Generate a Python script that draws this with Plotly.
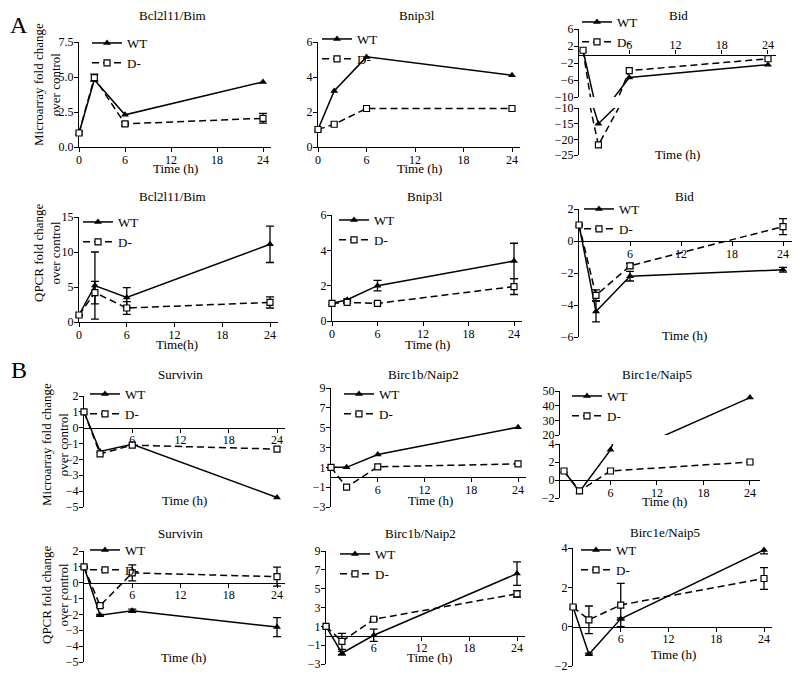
import plotly.graph_objects as go

# page body adds an 8px margin, so the figure is drawn 8px smaller and offset
OFF = 8
W, H = 800 - OFF, 677 - OFF
FONT = "Liberation Serif, Times New Roman, Times, serif"

# ---------------- data ----------------
time_h = [0, 2, 6, 24]

# A – microarray
bim_ma_wt = [1.0, 4.8, 2.3, 4.65]
bim_ma_d = [1.0, 4.95, 1.65, 2.05]
bim_ma_d_err = [0.1, 0.25, 0.12, 0.35]
bnip_ma_wt = [1.0, 3.2, 5.15, 4.1]
bnip_ma_d = [1.0, 1.3, 2.2, 2.2]
bid_ma_wt = [1.0, -15.0, -5.4, -2.4]
bid_ma_d = [1.0, -21.8, -3.8, -1.0]

# A – QPCR
bim_q_wt = [1.0, 5.2, 3.5, 11.1]
bim_q_wt_err = [0.0, 4.8, 1.4, 2.6]
bim_q_d = [1.0, 4.2, 2.0, 2.8]
bim_q_d_err = [0.0, 1.6, 0.9, 0.8]
bnip_q_wt = [1.0, 1.2, 2.0, 3.4]
bnip_q_wt_err = [0.0, 0.05, 0.3, 1.0]
bnip_q_d = [1.0, 1.05, 1.0, 1.95]
bnip_q_d_err = [0.0, 0.05, 0.05, 0.45]
bid_q_wt = [1.0, -4.4, -2.2, -1.8]
bid_q_wt_err = [0.05, 0.65, 0.3, 0.15]
bid_q_d = [1.0, -3.4, -1.55, 0.9]
bid_q_d_err = [0.05, 0.35, 0.15, 0.5]

# B – microarray
surv_ma_wt = [1.0, -1.5, -1.05, -4.4]
surv_ma_d = [1.0, -1.65, -1.1, -1.35]
naip2_ma_wt = [1.0, 1.0, 2.3, 5.05]
naip2_ma_d = [1.0, -1.0, 1.05, 1.35]
naip5_ma_wt = [1.0, -1.3, 3.35, 45.5]
naip5_ma_d = [1.0, -1.2, 1.0, 2.0]

# B – QPCR
surv_q_wt = [1.0, -2.05, -1.77, -2.8]
surv_q_wt_err = [0.05, 0.05, 0.1, 0.6]
surv_q_d = [1.0, -1.45, 0.62, 0.38]
surv_q_d_err = [0.05, 0.1, 0.5, 0.6]
naip2_q_wt = [1.0, -1.85, 0.05, 6.6]
naip2_q_wt_err = [0.1, 0.2, 0.65, 1.25]
naip2_q_d = [1.0, -0.6, 1.75, 4.45]
naip2_q_d_err = [0.1, 0.85, 0.1, 0.35]
naip5_q_wt = [1.0, -1.4, 0.4, 3.9]
naip5_q_wt_err = [0.05, 0.05, 0.05, 0.2]
naip5_q_d = [1.0, 0.35, 1.1, 2.45]
naip5_q_d_err = [0.05, 0.7, 1.1, 0.55]

# ---------------- panel setup ----------------
XT_ALL = [0, 6, 12, 18, 24]
XT_CROSS = [6, 12, 18, 24]

panels = [
    dict(title="Bcl2l11/Bim", wt=bim_ma_wt, wte=None, d=bim_ma_d, de=bim_ma_d_err,
         x0=79, x24=263, xr=[0, 25], xt=XT_ALL, cross=None,
         segs=[(42, 147, [0, 7.5], [0, 2.5, 5, 7.5])], yfmt=".1f",
         tpos=(172, 16), xtitle="Time (h)", xtpos=(175, 169), leg=(95, 42)),
    dict(title="Bnip3l", wt=bnip_ma_wt, wte=None, d=bnip_ma_d, de=None,
         x0=318, x24=512, xr=[0, 25], xt=XT_ALL, cross=None,
         segs=[(42, 147, [0, 6], [0, 2, 4, 6])], yfmt=None,
         tpos=(417, 16), xtitle="Time (h)", xtpos=(419, 169), leg=(325, 38)),
    dict(title="Bid", wt=bid_ma_wt, wte=None, d=bid_ma_d, de=None,
         x0=583, x24=768, xr=[-0.5, 25], xt=XT_CROSS, cross="top",
         segs=[(29, 97, [-10, 6], [6, 2, -2, -6, -10]),
               (108, 155, [-25, -10], [-10, -15, -20, -25])], yfmt=None,
         tpos=(678, 16), xtitle="Time (h)", xtpos=(677, 155), leg=(585, 21)),
    dict(title="Bcl2l11/Bim", wt=bim_q_wt, wte=bim_q_wt_err, d=bim_q_d, de=bim_q_d_err,
         x0=79, x24=270, xr=[0, 25], xt=XT_ALL, cross=None,
         segs=[(217, 322, [0, 15], [0, 5, 10, 15])], yfmt=None,
         tpos=(172, 197), xtitle="Time(h)", xtpos=(177, 344), leg=(86, 221)),
    dict(title="Bnip3l", wt=bnip_q_wt, wte=bnip_q_wt_err, d=bnip_q_d, de=bnip_q_d_err,
         x0=332, x24=514, xr=[0, 25], xt=XT_ALL, cross=None,
         segs=[(215, 321, [0, 6], [0, 2, 4, 6])], yfmt=None,
         tpos=(425, 197), xtitle="Time (h)", xtpos=(427, 344), leg=(342, 219)),
    dict(title="Bid", wt=bid_q_wt, wte=bid_q_wt_err, d=bid_q_d, de=bid_q_d_err,
         x0=579, x24=783, xr=[0, 25.2], xt=XT_CROSS, cross="bottom",
         segs=[(209, 337, [-6, 2], [-6, -4, -2, 0, 2])], yfmt=None,
         tpos=(684, 197), xtitle="Time (h)", xtpos=(684, 335), leg=(587, 208)),
    dict(title="Survivin", wt=surv_ma_wt, wte=None, d=surv_ma_d, de=None,
         x0=84, x24=277, xr=[0, 25], xt=XT_CROSS, cross="bottom",
         segs=[(396, 507, [-5, 2], [-5, -4, -3, -2, -1, 0, 1, 2])], yfmt=None,
         tpos=(180, 374), xtitle="Time (h)", xtpos=(184, 500), leg=(93, 393)),
    dict(title="Birc1b/Naip2", wt=naip2_ma_wt, wte=None, d=naip2_ma_d, de=None,
         x0=331, x24=518, xr=[0, 25], xt=XT_CROSS, cross="bottom",
         segs=[(388, 507, [-3, 9], [-3, -1, 1, 3, 5, 7, 9])], yfmt=None,
         tpos=(423, 374), xtitle="Time (h)", xtpos=(430, 500), leg=(347, 393)),
    dict(title="Birc1e/Naip5", wt=naip5_ma_wt, wte=None, d=naip5_ma_d, de=None,
         x0=564, x24=750, xr=[-0.5, 25.3], xt=XT_CROSS, cross="bottom",
         segs=[(444, 498, [-2, 4], [-2, 0, 2, 4]),
               (391, 435, [20, 50], [20, 30, 40, 50])], yfmt=None,
         tpos=(657, 374), xtitle="Time (h)", xtpos=(664, 502), leg=(575, 395)),
    dict(title="Survivin", wt=surv_q_wt, wte=surv_q_wt_err, d=surv_q_d, de=surv_q_d_err,
         x0=84, x24=277, xr=[0, 25], xt=XT_CROSS, cross="bottom",
         segs=[(551, 662, [-5, 2], [-5, -4, -3, -2, -1, 0, 1, 2])], yfmt=None,
         tpos=(180, 533), xtitle="Time (h)", xtpos=(183, 657), leg=(93, 549)),
    dict(title="Birc1b/Naip2", wt=naip2_q_wt, wte=naip2_q_wt_err, d=naip2_q_d, de=naip2_q_d_err,
         x0=326, x24=517, xr=[0, 25], xt=XT_CROSS, cross="bottom",
         segs=[(551, 664, [-3, 9], [-3, -1, 1, 3, 5, 7, 9])], yfmt=None,
         tpos=(420, 533), xtitle="Time (h)", xtpos=(429, 657), leg=(343, 553)),
    dict(title="Birc1e/Naip5", wt=naip5_q_wt, wte=naip5_q_wt_err, d=naip5_q_d, de=naip5_q_d_err,
         x0=573, x24=764, xr=[0, 25], xt=XT_CROSS, cross="bottom",
         segs=[(548, 666, [-2, 4], [-2, 0, 2, 4])], yfmt=None,
         tpos=(665, 532), xtitle="Time (h)", xtpos=(673, 654), leg=(584, 549)),
]

row_titles = [
    ("Microarray fold change<br>over control", 47, 85),
    ("QPCR fold change<br>over control", 47, 253),
    ("Microarray fold change<br>over control", 55, 445),
    ("QPCR fold change<br>over control", 55, 595),
]
letters = [("A", 19, 25), ("B", 19, 370)]


def fx(px):
    return (px - OFF) / W


def fy(py):
    return 1 - (py - OFF) / H


def axis_style(**kw):
    base = dict(showline=True, linecolor="black", linewidth=1.3, ticks="outside",
                ticklen=4, tickwidth=1.3, tickcolor="black", showgrid=False,
                zeroline=False, tickfont=dict(family=FONT, size=12, color="black"),
                layer="below traces", fixedrange=True, automargin=False)
    base.update(kw)
    return base


def err(a):
    if a is None:
        return None
    return dict(type="data", array=a, visible=True, color="black", thickness=1.3, width=4)


def ann(text, x, y, size=13, angle=0):
    return dict(text=text, x=fx(x), y=fy(y), xref="paper", yref="paper",
                xanchor="center", yanchor="middle", showarrow=False, textangle=angle,
                font=dict(family=FONT, size=size, color="black"))


fig = go.Figure()
layout = {}
annotations = []
extra_y = 13

for i, p in enumerate(panels, start=1):
    xs = "" if i == 1 else str(i)
    s = (p["x24"] - p["x0"]) / 24.0
    xdom = [fx(p["x0"] + p["xr"][0] * s), fx(p["x0"] + p["xr"][1] * s)]
    leg_name = "legend" if i == 1 else f"legend{i}"
    broken = len(p["segs"]) > 1

    yids = []
    for k, (pt, pb, yr, tv) in enumerate(p["segs"]):
        if k == 0:
            yid = xs
        else:
            yid = str(extra_y)
            extra_y += 1
        yids.append(yid)
        ydom = [fy(pb), fy(pt)]
        ya = axis_style(domain=ydom, range=yr, tickvals=tv, anchor="x" + xs,
                        ticklabelstandoff=-2)
        if p["yfmt"]:
            ya["tickformat"] = p["yfmt"]
        layout["yaxis" + yid] = ya

    # x axis
    pt, pb, yr, _ = p["segs"][0]
    ydom0 = [fy(pb), fy(pt)]
    xa = axis_style(domain=xdom, range=p["xr"], tickvals=p["xt"], ticklabelstandoff=-3)
    if p["cross"] is None:
        xa["anchor"] = "y" + xs
    else:
        frac = (0 - yr[0]) / (yr[1] - yr[0])
        xa["anchor"] = "free"
        xa["position"] = ydom0[0] + frac * (ydom0[1] - ydom0[0])
        xa["side"] = p["cross"]
    layout["xaxis" + xs] = xa

    # traces
    for k, yid in enumerate(yids):
        show = k == 0
        fig.add_trace(go.Scatter(
            x=time_h, y=p["wt"], xaxis="x" + xs, yaxis="y" + yid, name="WT",
            legend=leg_name, showlegend=show, mode="lines+markers",
            line=dict(color="black", width=1.5),
            marker=dict(symbol="triangle-up", size=7, color="black"),
            error_y=err(p["wte"]), cliponaxis=broken))
        fig.add_trace(go.Scatter(
            x=time_h, y=p["d"], xaxis="x" + xs, yaxis="y" + yid, name="D-",
            legend=leg_name, showlegend=show, mode="lines+markers",
            line=dict(color="black", width=1.5, dash="7px,4px"),
            marker=dict(symbol="square", size=6, color="white",
                        line=dict(color="black", width=1.2)),
            error_y=err(p["de"]), cliponaxis=broken))

    lx, ly = p["leg"]
    layout[leg_name] = dict(x=fx(lx - 8), y=fy(ly - 14), xanchor="left", yanchor="top",
                            bgcolor="rgba(0,0,0,0)", font=dict(family=FONT, size=13, color="black"),
                            tracegroupgap=0, itemwidth=30, borderwidth=0)

    annotations.append(ann(p["title"], *p["tpos"]))
    annotations.append(ann(p["xtitle"], *p["xtpos"]))

for txt, x, y in row_titles:
    annotations.append(ann(txt, x, y, angle=-90))
for txt, x, y in letters:
    annotations.append(ann(txt, x, y, size=24))

fig.update_layout(width=W, height=H, margin=dict(l=0, r=0, t=0, b=0, autoexpand=False),
                  paper_bgcolor="white", plot_bgcolor="white",
                  annotations=annotations, **layout)

fig.write_html("out.html")
